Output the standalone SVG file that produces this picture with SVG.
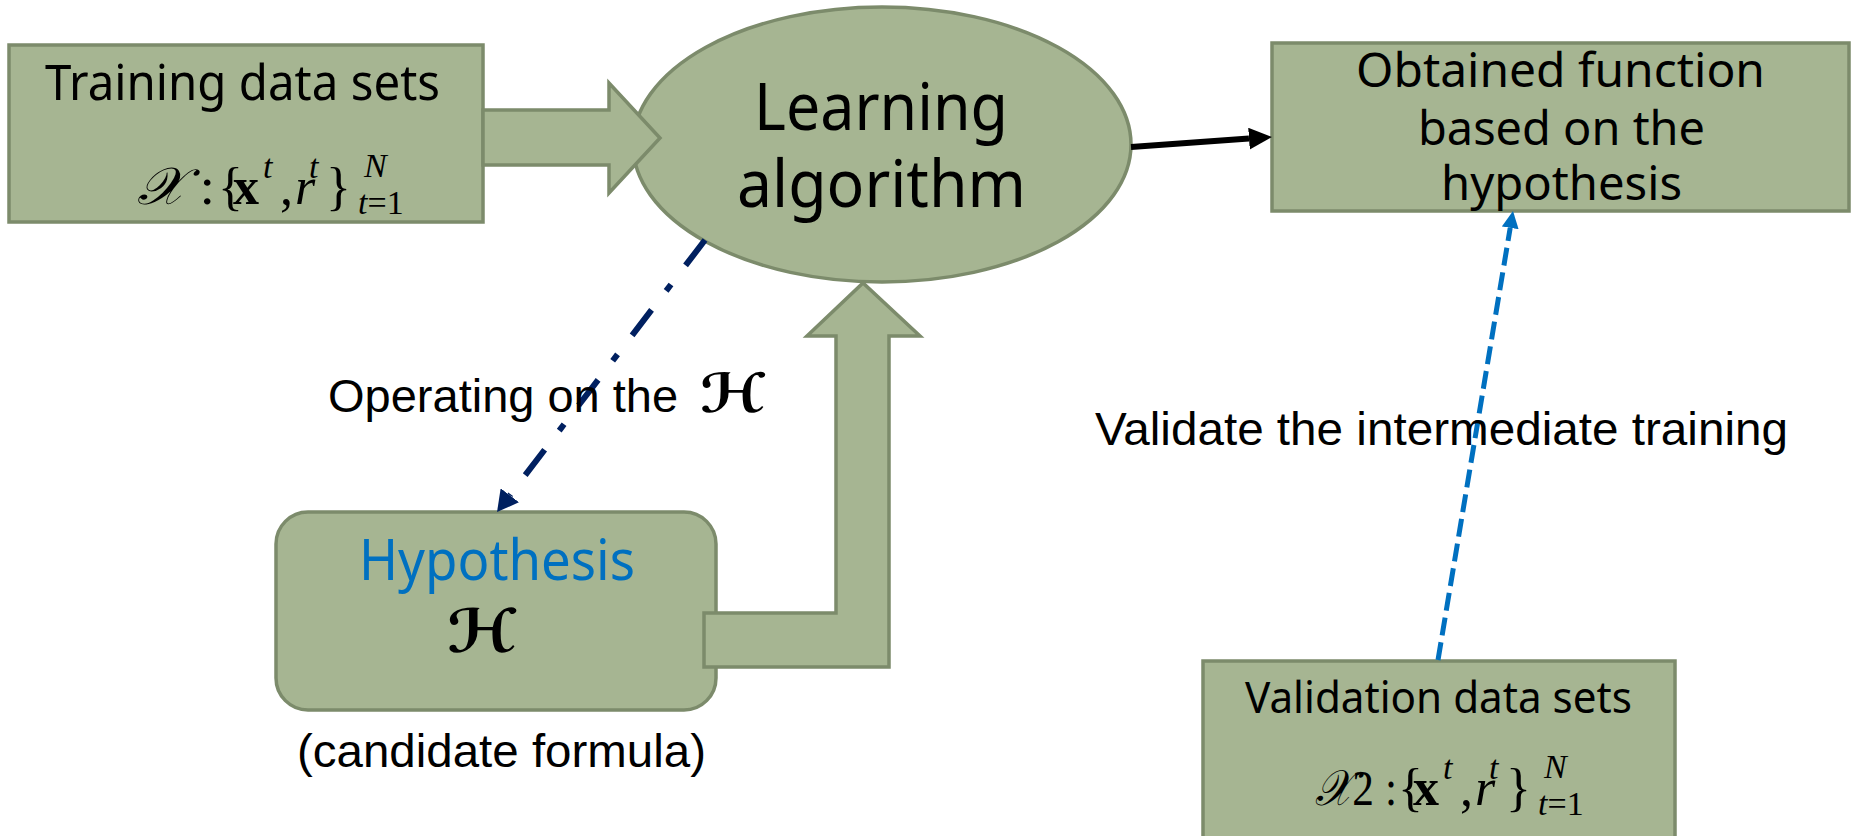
<svg xmlns="http://www.w3.org/2000/svg" width="1851" height="836" viewBox="0 0 1851 836">
<style>
.box{fill:#a6b592;stroke:#7c8b6b;stroke-width:3.5}
.seg{font-family:"Noto Sans","Open Sans",sans-serif;fill:#000}
.arial{font-family:"Liberation Sans",Arial,sans-serif;fill:#000}
.math{font-family:"Liberation Serif","Times New Roman",serif;fill:#000}
.scr{font-family:"DejaVu Serif","DejaVu Sans",serif;font-style:italic}
.scrH{font-family:"DejaVu Serif","DejaVu Sans",serif;font-style:italic;font-weight:bold;fill:#000}
</style>
<defs>
<marker id="mNavy" markerUnits="userSpaceOnUse" viewBox="0 0 21 23" refX="0" refY="11.5" markerWidth="21" markerHeight="23" orient="auto"><path d="M0,0 L21,11.5 L0,23 z" fill="#002060"/></marker>
<marker id="mBlue" markerUnits="userSpaceOnUse" viewBox="0 0 17 17" refX="0" refY="8.5" markerWidth="17" markerHeight="17" orient="auto"><path d="M0,0 L17,8.5 L0,17 z" fill="#0070c0"/></marker>
<marker id="mBlack" markerUnits="userSpaceOnUse" viewBox="0 0 23 22" refX="0" refY="11" markerWidth="23" markerHeight="22" orient="auto"><path d="M0,0 L23,11 L0,22 z" fill="#000"/></marker>
<g id="setFormula">
<text class="math" font-size="52"><tspan x="0" y="0">{</tspan><tspan x="15" y="0" font-weight="bold">x</tspan><tspan x="45" y="-26" font-size="34" font-style="italic">t</tspan><tspan x="62" y="0">,</tspan><tspan x="77" y="0" font-style="italic">r</tspan><tspan x="91" y="-26" font-size="34" font-style="italic">t</tspan><tspan x="108" y="0">}</tspan><tspan x="146" y="-27" font-size="34" font-style="italic">N</tspan><tspan x="140" y="10" font-size="34" font-style="italic">t</tspan><tspan font-size="34">=1</tspan></text>
</g>
</defs>

<g id="node-learning">
<ellipse class="box" cx="882" cy="144.5" rx="249" ry="137.5"/>
<text class="seg" font-size="66" x="754" y="130" textLength="254" lengthAdjust="spacingAndGlyphs">Learning</text>
<text class="seg" font-size="66" x="737" y="207" textLength="289" lengthAdjust="spacingAndGlyphs">algorithm</text>
</g>

<g id="node-training">
<rect class="box" x="9" y="45" width="474" height="177"/>
<text class="seg" font-size="50" x="45" y="100" textLength="395" lengthAdjust="spacingAndGlyphs">Training data sets</text>
<text class="math" font-size="52" x="137" y="204" textLength="78" lengthAdjust="spacingAndGlyphs"><tspan class="scr">𝒳</tspan> :</text>
<use href="#setFormula" x="218" y="204"/>
</g>

<g id="node-obtained">
<rect class="box" x="1272" y="43" width="577" height="168"/>
<text class="seg" font-size="47" x="1356" y="87" textLength="409" lengthAdjust="spacingAndGlyphs">Obtained function</text>
<text class="seg" font-size="47" x="1418" y="145" textLength="287" lengthAdjust="spacingAndGlyphs">based on the</text>
<text class="seg" font-size="47" x="1441" y="200" textLength="241" lengthAdjust="spacingAndGlyphs">hypothesis</text>
</g>

<g id="node-hypothesis">
<rect class="box" x="276" y="512" width="440" height="198" rx="32" ry="32"/>
<text class="seg" font-size="56" x="359" y="580" textLength="276" lengthAdjust="spacingAndGlyphs" style="fill:#0070c0">Hypothesis</text>
<text class="scrH" font-size="60" x="447" y="652" textLength="70" lengthAdjust="spacingAndGlyphs">ℋ</text>
</g>

<g id="node-validation">
<rect class="box" x="1203" y="661" width="472" height="190"/>
<text class="seg" font-size="44" x="1245" y="713" textLength="387" lengthAdjust="spacingAndGlyphs">Validation data sets</text>
<text class="math" font-size="50" x="1315" y="805" textLength="82" lengthAdjust="spacingAndGlyphs"><tspan class="scr">𝒳</tspan>2 :</text>
<use href="#setFormula" x="1398" y="805"/>
</g>

<g id="connectors">
<polygon class="box" points="483,110 609,110 609,83 660,138 609,193 609,165 483,165"/>
<polygon class="box" points="704,613 836,613 836,336 807,336 863,283 920,336 889,336 889,667 704,667"/>
<line x1="1131" y1="147" x2="1249" y2="138.6" stroke="#000" stroke-width="6" marker-end="url(#mBlack)"/>
<line x1="705" y1="240" x2="509.8" y2="495.3" stroke="#002060" stroke-width="6" stroke-dasharray="32 24 8 24" marker-end="url(#mNavy)"/>
<line x1="1438" y1="660" x2="1510.2" y2="227.8" stroke="#0070c0" stroke-width="5" stroke-dasharray="18 7" marker-end="url(#mBlue)"/>
</g>

<g id="labels">
<text class="arial" font-size="47" x="328" y="412">Operating on the</text>
<text class="scrH" font-size="54" x="700" y="412" textLength="66" lengthAdjust="spacingAndGlyphs">ℋ</text>
<text class="arial" font-size="47" x="297" y="767" textLength="409" lengthAdjust="spacingAndGlyphs">(candidate formula)</text>
<text class="arial" font-size="47" x="1095" y="445" textLength="693" lengthAdjust="spacingAndGlyphs">Validate the intermediate training</text>
</g>
</svg>
